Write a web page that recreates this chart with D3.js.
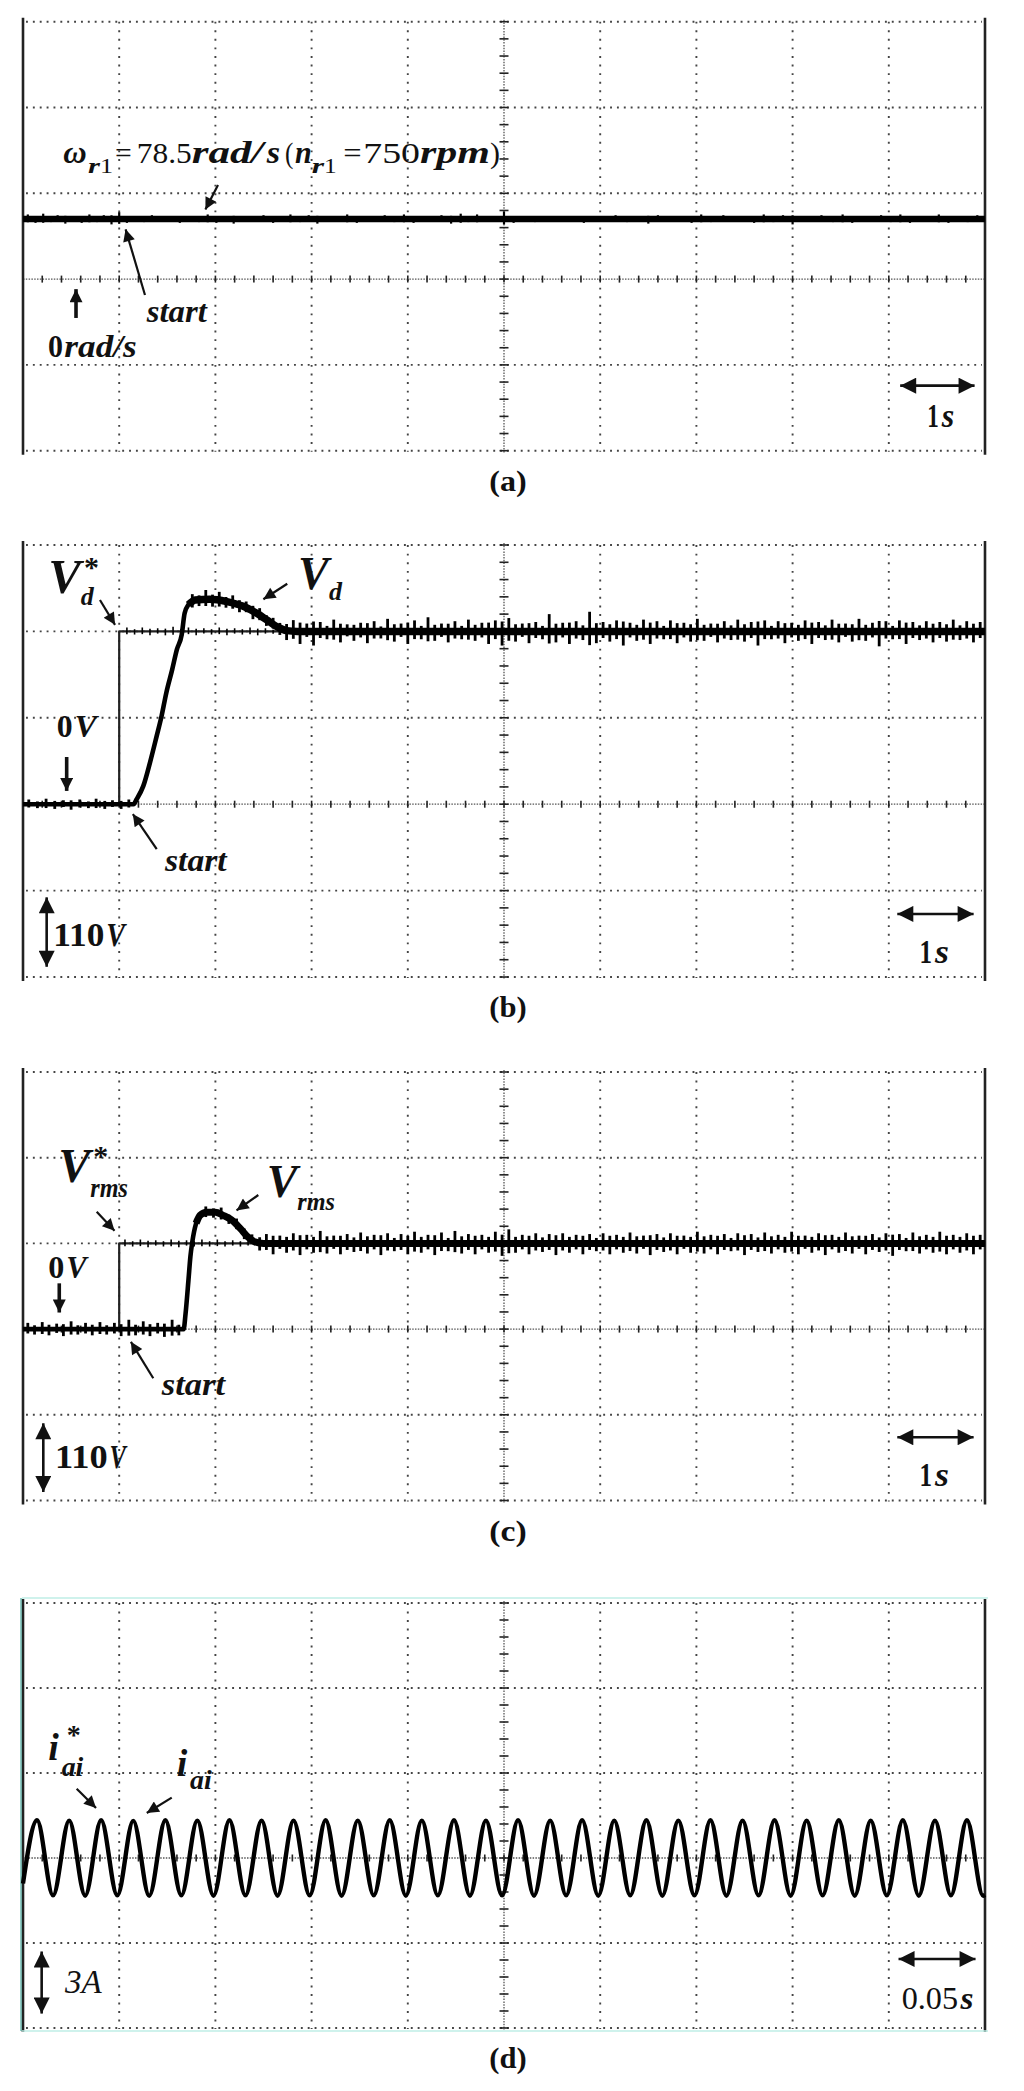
<!DOCTYPE html>
<html>
<head>
<meta charset="utf-8">
<script src="https://cdn.jsdelivr.net/npm/d3@7"></script>
<style>
  body { margin: 0; background: #fff; }
  svg { display: block; }
  text { font-family: "Liberation Serif", "Times New Roman", serif; fill: #111; }
</style>
</head>
<body>
<svg width="1024" height="2091"></svg>
<script>
'use strict'

// ---- data (read off the scope captures) ----
// (a) rotor speed, rad/s, 1 s/div
const speedTrace = [[0, 78.5], [10, 78.5]]
const speedNoise = [
  [0.05, 6], [0.13, -5], [0.21, 7], [0.29, -4], [0.36, 5], [0.44, -6], [0.52, 4], [0.61, -5], [0.69, 6], [0.77, -4],
  [0.84, 5], [0.92, -7], [1.0, 9], [1.08, -5], [1.17, 4], [1.26, -4], [1.34, 5], [1.45, -3], [1.55, 4], [1.63, -5],
  [1.72, 3], [1.83, -4], [1.92, 6], [2.01, -5], [2.1, 4], [2.19, -6], [2.3, 4], [2.4, -3], [2.5, 5], [2.6, -5],
  [2.69, 3], [2.78, 6], [2.88, -4], [2.97, 5], [3.06, -6], [3.16, 4], [3.27, -3], [3.37, 6], [3.47, -5], [3.56, 4],
  [3.66, -3], [3.76, 5], [3.86, -4], [3.96, 6], [4.06, -5], [4.15, 4], [4.25, -3], [4.35, 5], [4.45, -6], [4.55, 7],
  [4.63, -4], [4.72, 6], [4.82, -3], [4.92, 4], [5.0, 10], [5.1, -5], [5.2, 3], [5.32, -4], [5.45, 4], [5.58, -3],
  [5.7, 3], [5.83, -5], [5.95, 4], [6.05, -3], [6.16, 5], [6.28, -4], [6.4, 3], [6.5, -6], [6.6, 5], [6.72, -3],
  [6.84, 4], [6.95, -5], [7.05, 6], [7.15, -4], [7.28, 5], [7.38, -3], [7.5, 4], [7.6, -5], [7.7, 6], [7.8, -4],
  [7.9, 5], [8.0, -7], [8.1, 4], [8.2, -3], [8.3, 5], [8.42, -4], [8.52, 6], [8.62, -5], [8.72, 4], [8.82, -3],
  [8.92, 5], [9.02, -4], [9.12, 6], [9.22, -5], [9.32, 4], [9.42, -3], [9.52, 6], [9.62, -5], [9.72, 4], [9.82, -4], [9.92, 5]
]

// (b) d-axis voltage, V, 1 s/div
const vdRef = [[0, 0], [1.0, 0], [1.0, 220], [10, 220]]
const vdMeas = [
  [0, 0], [1.15, 0], [1.18, 6], [1.25, 23], [1.32, 53], [1.39, 87], [1.44, 112], [1.49, 142], [1.55, 171],
  [1.6, 197], [1.65, 216], [1.68, 243], [1.72, 254], [1.79, 260], [1.94, 261], [2.12, 258], [2.29, 252],
  [2.43, 243], [2.53, 235], [2.64, 226], [2.74, 221], [2.85, 220], [10, 220]
]
const vdRefNoise = [
  [1.08, 5], [1.16, -4], [1.24, 5], [1.32, -5], [1.4, 4], [1.48, -5], [1.56, 6], [1.64, -4], [1.72, 5], [1.8, -5],
  [1.88, 4], [1.96, -4], [2.04, 5], [2.12, -5], [2.2, 4], [2.28, -4], [2.36, 5], [2.44, -5], [2.52, 4], [2.6, -3]
]
const vdNoise = [
  [0.06, 6], [0.15, -5], [0.24, 7], [0.33, -6], [0.42, 5], [0.5, -7], [0.59, 6], [0.68, -5], [0.76, 7], [0.85, -6],
  [0.93, 5], [1.02, -6], [1.1, 6],
  [1.76, 10], [1.83, -8], [1.9, 12], [1.97, -9], [2.04, 11], [2.11, -8], [2.18, 10], [2.25, -9], [2.32, 8],
  [2.39, -10], [2.46, 9], [2.53, -8], [2.6, 8], [2.67, -9],
  [2.74, -12], [2.81, 14], [2.88, -16], [2.95, 10], [3.02, -18], [3.09, 12], [3.16, -10], [3.23, 15], [3.3, -14],
  [3.37, 9], [3.44, -12], [3.51, 11], [3.58, -15], [3.65, 13], [3.72, -9], [3.79, 16], [3.86, -13], [3.93, 10],
  [4.0, -16], [4.07, 14], [4.14, -10], [4.21, 18], [4.28, -12], [4.35, 10], [4.42, -14], [4.49, 13], [4.56, -10],
  [4.63, 15], [4.7, -12], [4.77, 11], [4.84, -16], [4.91, 14], [4.98, -18], [5.05, 17], [5.12, -13], [5.19, 10],
  [5.26, -15], [5.33, 12], [5.4, -10], [5.47, 22], [5.54, -14], [5.61, 11], [5.68, -16], [5.75, 13], [5.82, -11],
  [5.89, 25], [5.96, -15], [6.03, 12], [6.1, -13], [6.17, 14], [6.24, -18], [6.31, 11], [6.38, -12], [6.45, 15],
  [6.52, -16], [6.59, 13], [6.66, -10], [6.73, 14], [6.8, -15], [6.87, 11], [6.94, -13], [7.01, 16], [7.08, -12],
  [7.15, 10], [7.22, -14], [7.29, 13], [7.36, -11], [7.43, 15], [7.5, -13], [7.57, 12], [7.64, -18], [7.71, 14],
  [7.78, -10], [7.85, 13], [7.92, -15], [7.99, 11], [8.06, -12], [8.13, 14], [8.2, -16], [8.27, 12], [8.34, -11],
  [8.41, 15], [8.48, -14], [8.55, 10], [8.62, -13], [8.69, 16], [8.76, -12], [8.83, 11], [8.9, -19], [8.97, 13],
  [9.04, -10], [9.11, 14], [9.18, -16], [9.25, 12], [9.32, -11], [9.39, 13], [9.46, -14], [9.53, 12], [9.6, -13],
  [9.67, 15], [9.74, -11], [9.81, 13], [9.88, -14], [9.95, 12]
]

// (c) rms voltage, V, 1 s/div
const vrmsRef = [[0, 0], [1.0, 0], [1.0, 110], [10, 110]]
const vrmsMeas = [
  [0, 0], [1.67, 0], [1.69, 20], [1.72, 63], [1.74, 93], [1.76, 112], [1.8, 136], [1.84, 146], [1.91, 150],
  [2.0, 150], [2.08, 146], [2.17, 140], [2.26, 129], [2.34, 118], [2.41, 112], [2.5, 110], [10, 110]
]
const vrmsRefNoise = [
  [1.06, 5], [1.14, -4], [1.22, 5], [1.3, -5], [1.38, 4], [1.46, -4], [1.54, 5], [1.62, -5], [1.7, 4],
  [1.78, -4], [1.86, 5], [1.94, -4], [2.02, 5], [2.1, -4], [2.18, 4], [2.26, -4], [2.34, 4]
]
const vrmsNoise = [
  [0.05, 8], [0.12, -7], [0.2, 9], [0.27, -8], [0.35, 7], [0.42, -9], [0.5, 10], [0.57, -7], [0.65, 8], [0.72, -8],
  [0.8, 9], [0.87, -7], [0.95, 8], [1.02, -9], [1.1, 12], [1.17, -8], [1.25, 10], [1.32, -9], [1.4, 8], [1.47, -10],
  [1.55, 12], [1.62, -8],
  [1.9, 8], [1.98, -7], [2.06, 9], [2.14, -7], [2.22, 8], [2.3, -8], [2.38, 7],
  [2.46, -10], [2.53, 12], [2.6, -14], [2.67, 10], [2.74, -12], [2.81, 13], [2.88, -15], [2.95, 11], [3.02, -12],
  [3.09, 16], [3.16, -13], [3.23, 10], [3.3, -14], [3.37, 12], [3.44, -11], [3.51, 14], [3.58, -13], [3.65, 11],
  [3.72, -15], [3.79, 13], [3.86, -10], [3.93, 12], [4.0, -14], [4.07, 15], [4.14, -12], [4.21, 11], [4.28, -15],
  [4.35, 14], [4.42, -10], [4.49, 16], [4.56, -13], [4.63, 12], [4.7, -14], [4.77, 11], [4.84, -12], [4.91, 15],
  [4.98, -16], [5.05, 18], [5.12, -12], [5.19, 11], [5.26, -14], [5.33, 13], [5.4, -11], [5.47, 12], [5.54, -15],
  [5.61, 13], [5.68, -12], [5.75, 11], [5.82, -14], [5.89, 12], [5.96, -10], [6.03, 13], [6.1, -14], [6.17, 11],
  [6.24, -12], [6.31, 14], [6.38, -13], [6.45, 10], [6.52, -15], [6.59, 12], [6.66, -11], [6.73, 13], [6.8, -14],
  [6.87, 10], [6.94, -12], [7.01, 15], [7.08, -13], [7.15, 11], [7.22, -14], [7.29, 12], [7.36, -10], [7.43, 13],
  [7.5, -15], [7.57, 12], [7.64, -11], [7.71, 14], [7.78, -13], [7.85, 11], [7.92, -12], [7.99, 15], [8.06, -14],
  [8.13, 10], [8.2, -12], [8.27, 13], [8.34, -15], [8.41, 11], [8.48, -12], [8.55, 14], [8.62, -13], [8.69, 10],
  [8.76, -14], [8.83, 12], [8.9, -11], [8.97, 13], [9.04, -16], [9.11, 12], [9.18, -10], [9.25, 14], [9.32, -13],
  [9.39, 11], [9.46, -12], [9.53, 15], [9.6, -14], [9.67, 11], [9.74, -12], [9.81, 13], [9.88, -14], [9.95, 11]
]

// (d) phase current, A, time in ms (50 ms/div); peaks and troughs of i_ai / i_ai*
const iaStart = [[0, -0.9]]
const iaPeaks = [
  [7.3, 1.33], [24.0, 1.32], [40.6, 1.33], [57.3, 1.31], [74.0, 1.33], [90.6, 1.32], [107.3, 1.33], [124.0, 1.32],
  [140.6, 1.32], [157.3, 1.33], [174.0, 1.32], [190.6, 1.33], [207.3, 1.32], [224.0, 1.33], [240.6, 1.32],
  [257.3, 1.33], [274.0, 1.32], [290.6, 1.33], [307.3, 1.32], [324.0, 1.33], [340.6, 1.32], [357.3, 1.33],
  [374.0, 1.32], [390.6, 1.33], [407.3, 1.32], [424.0, 1.33], [440.6, 1.32], [457.3, 1.33], [474.0, 1.32], [490.6, 1.33]
]
const iaTroughs = [
  [15.6, -1.32], [32.3, -1.33], [49.0, -1.32], [65.6, -1.33], [82.3, -1.32], [99.0, -1.33], [115.6, -1.32],
  [132.3, -1.33], [149.0, -1.32], [165.6, -1.33], [182.3, -1.32], [199.0, -1.33], [215.6, -1.32], [232.3, -1.33],
  [249.0, -1.32], [265.6, -1.33], [282.3, -1.32], [299.0, -1.33], [315.6, -1.32], [332.3, -1.33], [349.0, -1.32],
  [365.6, -1.33], [382.3, -1.32], [399.0, -1.33], [415.6, -1.32], [432.3, -1.33], [449.0, -1.32], [465.6, -1.33],
  [482.3, -1.32], [499.0, -1.33]
]
const iaEnd = [[500, -1.3]]

// ---- layout ----
const svg = d3.select('svg')
const X0 = 23
const X1 = 985

const panels = [
  { key: 'a', top: 21.7, divH: 85.8, tPerDiv: 1, yPerDiv: 112.14, label: '(a)' },
  { key: 'b', top: 545, divH: 86.4, tPerDiv: 1, yPerDiv: 110, label: '(b)' },
  { key: 'c', top: 1072, divH: 85.7, tPerDiv: 1, yPerDiv: 110, label: '(c)' },
  { key: 'd', top: 1603, divH: 85, tPerDiv: 50, yPerDiv: 3, label: '(d)' }
]
panels.forEach(p => {
  p.x = d3.scaleLinear().domain([0, 10 * p.tPerDiv]).range([X0, X1])
  p.y = d3.scaleLinear().domain([-2 * p.yPerDiv, 3 * p.yPerDiv]).range([p.top + 5 * p.divH, p.top])
  p.gx = d => p.x(d * p.tPerDiv)
  p.gy = d => p.y(d * p.yPerDiv)
  p.bottom = p.top + 5 * p.divH
})
const P = Object.fromEntries(panels.map(p => [p.key, p]))
const page = { gx: d => d, gy: d => d }

// arrow heads
const defs = svg.append('defs')
const heads = { s: [16, 12], m: [15, 13], l: [17, 16] }
Object.entries(heads).forEach(([k, [len, wid]]) => {
  defs.append('marker')
    .attr('id', 'head-' + k)
    .attr('viewBox', '0 0 10 10')
    .attr('refX', 10).attr('refY', 5)
    .attr('markerUnits', 'userSpaceOnUse')
    .attr('markerWidth', len).attr('markerHeight', wid)
    .attr('orient', 'auto-start-reverse')
    .append('path').attr('d', 'M0,0 L10,5 L0,10 z').attr('fill', '#111')
})

function drawGrid(p) {
  const g = svg.append('g').attr('class', 'grid-' + p.key)
  const divW = (X1 - X0) / 10
  const zeroY = p.gy(0)
  const midX = p.gx(5)

  g.selectAll('line.v')
    .data(d3.range(1, 10).filter(k => k !== 5))
    .enter().append('line')
    .attr('x1', k => p.gx(k)).attr('x2', k => p.gx(k))
    .attr('y1', p.top).attr('y2', p.bottom + 1)
    .attr('stroke', '#444').attr('stroke-width', 1.9)
    .attr('stroke-dasharray', `1.9 ${p.divH / 10 - 1.9}`)

  g.selectAll('line.h')
    .data([3, 2, 1, -1, -2])
    .enter().append('line')
    .attr('x1', X0 + 3).attr('x2', X1 - 3)
    .attr('y1', k => p.gy(k)).attr('y2', k => p.gy(k))
    .attr('stroke', '#444').attr('stroke-width', 1.9)
    .attr('stroke-dasharray', `1.9 ${divW / 14 - 1.9}`)

  // centre cross with fine ticks
  g.append('line')
    .attr('x1', X0).attr('x2', X1).attr('y1', zeroY).attr('y2', zeroY)
    .attr('stroke', '#555').attr('stroke-width', 1.3).attr('stroke-dasharray', '1.5 1.3')
  g.append('line')
    .attr('x1', midX).attr('x2', midX).attr('y1', p.top - 2).attr('y2', p.bottom + 2)
    .attr('stroke', '#555').attr('stroke-width', 1.3).attr('stroke-dasharray', '1.5 1.3')
  g.selectAll('line.tx')
    .data(d3.range(1, 50))
    .enter().append('line')
    .attr('x1', k => X0 + k * divW / 5).attr('x2', k => X0 + k * divW / 5)
    .attr('y1', zeroY - 3.5).attr('y2', zeroY + 3.5)
    .attr('stroke', '#222').attr('stroke-width', 1.6)
  g.selectAll('line.ty')
    .data(d3.range(0, 26))
    .enter().append('line')
    .attr('y1', k => p.top + k * p.divH / 5).attr('y2', k => p.top + k * p.divH / 5)
    .attr('x1', midX - 4.5).attr('x2', midX + 4.5)
    .attr('stroke', '#222').attr('stroke-width', 1.6)

  // side borders
  g.selectAll('line.border')
    .data([X0, X1])
    .enter().append('line')
    .attr('x1', d => d).attr('x2', d => d)
    .attr('y1', p.top - 4).attr('y2', p.bottom + 4)
    .attr('stroke', '#222').attr('stroke-width', 2.6)
}

function drawTrace(p, data, width, curve, color) {
  const line = d3.line()
    .x(d => p.x(d[0]))
    .y(d => p.y(d[1]))
    .curve(curve || d3.curveLinear)
  svg.append('path')
    .datum(data)
    .attr('d', line)
    .attr('fill', 'none')
    .attr('stroke', color || '#000')
    .attr('stroke-width', width)
    .attr('stroke-linejoin', 'round')
}

function baseAt(trace, t) {
  for (let i = 0; i < trace.length - 1; i++) {
    const [t0, v0] = trace[i]
    const [t1, v1] = trace[i + 1]
    if (t >= t0 && t <= t1 && t1 > t0) return v0 + (v1 - v0) * (t - t0) / (t1 - t0)
  }
  return trace[trace.length - 1][1]
}

function drawSpikes(p, trace, noise, width) {
  svg.append('g')
    .selectAll('line')
    .data(noise)
    .enter().append('line')
    .attr('x1', d => p.x(d[0])).attr('x2', d => p.x(d[0]))
    .attr('y1', d => p.y(baseAt(trace, d[0]) - d[1] * 0.7))
    .attr('y2', d => p.y(baseAt(trace, d[0]) + d[1]))
    .attr('stroke', '#000')
    .attr('stroke-width', width)
}

function arrow(p, from, to, opts) {
  const o = Object.assign({ w: 2.2, head: 's', both: false }, opts)
  let x1 = p.gx(from[0]), y1 = p.gy(from[1])
  let x2 = p.gx(to[0]), y2 = p.gy(to[1])
  const len = Math.hypot(x2 - x1, y2 - y1)
  const ux = (x2 - x1) / len, uy = (y2 - y1) / len
  const cut = heads[o.head][0] * 0.5
  x2 -= ux * cut; y2 -= uy * cut
  if (o.both) { x1 += ux * cut; y1 += uy * cut }
  const ln = svg.append('line')
    .attr('x1', x1).attr('y1', y1).attr('x2', x2).attr('y2', y2)
    .attr('stroke', '#111').attr('stroke-width', o.w)
    .attr('marker-end', `url(#head-${o.head})`)
  if (o.both) ln.attr('marker-start', `url(#head-${o.head})`)
}

// one text, each part placed at its own position (grid units); x1 stretches the part to that end
function label(p, spec) {
  const t = svg.append('text')
  spec.parts.forEach(part => {
    const x0 = p.gx(part.x0)
    const ts = t.append('tspan').text(part.t)
      .attr('x', x0)
      .attr('y', p.gy(part.base !== undefined ? part.base : spec.base))
      .attr('font-size', part.size || spec.size)
      .attr('font-style', part.i ? 'italic' : 'normal')
      .attr('font-weight', part.b ? 'bold' : 'normal')
    if (part.x1 !== undefined) {
      ts.attr('textLength', p.gx(part.x1) - x0).attr('lengthAdjust', 'spacingAndGlyphs')
    }
  })
  return t
}

const BI = { i: true, b: true }

// ---- draw ----
panels.forEach(drawGrid)

// (d) frame tint
svg.append('g').selectAll('line')
  .data([P.d.top - 5, P.d.bottom + 3])
  .enter().append('line')
  .attr('x1', X0 - 1).attr('x2', X1 + 3).attr('y1', d => d).attr('y2', d => d)
  .attr('stroke', '#bfeee6').attr('stroke-width', 1.3)
svg.append('line')
  .attr('x1', X0 - 2).attr('x2', X0 - 2).attr('y1', P.d.top - 5).attr('y2', P.d.bottom + 3)
  .attr('stroke', '#2a9d8f').attr('stroke-width', 1)

// traces
drawTrace(P.a, speedTrace, 6.5)
drawSpikes(P.a, speedTrace, speedNoise, 2.2)

drawTrace(P.b, vdRef, 2.2, null, '#222')
drawSpikes(P.b, vdRef, vdRefNoise, 1.6)
drawTrace(P.b, vdMeas, 4.6, d3.curveMonotoneX)
drawTrace(P.b, vdMeas.filter(d => d[0] >= 1.72), 7.5, d3.curveMonotoneX)
drawSpikes(P.b, vdMeas, vdNoise, 2.8)

drawTrace(P.c, vrmsRef, 2.2, null, '#222')
drawSpikes(P.c, vrmsRef, vrmsRefNoise, 1.6)
drawTrace(P.c, vrmsMeas, 4.6, d3.curveMonotoneX)
drawTrace(P.c, vrmsMeas.filter(d => d[0] >= 1.8), 7, d3.curveMonotoneX)
drawSpikes(P.c, vrmsMeas, vrmsNoise, 2.8)

const iaWave = iaStart.concat(iaPeaks, iaTroughs, iaEnd).sort((m, n) => m[0] - n[0])
drawTrace(P.d, iaWave, 4.4, d3.curveMonotoneX)

// ---- annotations (positions in grid divisions) ----
// (a)
label(P.a, {
  base: 1.353, size: 30,
  parts: [
    { t: 'ω', x0: 0.419, x1: 0.663, ...BI, size: 31 },
    { t: 'r', x0: 0.676, x1: 0.8, ...BI, size: 22, base: 1.237 },
    { t: '1', x0: 0.8, x1: 0.936, size: 22, base: 1.237 },
    { t: '=', x0: 0.956, x1: 1.13 },
    { t: '78.5', x0: 1.182, x1: 1.754 },
    { t: 'rad/', x0: 1.754, x1: 2.498, ...BI, size: 31 },
    { t: 's', x0: 2.533, x1: 2.672, ...BI, size: 31 },
    { t: '(', x0: 2.723, x1: 2.81 },
    { t: 'n', x0: 2.827, x1: 3.001, ...BI, size: 31 },
    { t: 'r', x0: 3.001, x1: 3.129, ...BI, size: 22, base: 1.237 },
    { t: '1', x0: 3.129, x1: 3.261, size: 22, base: 1.237 },
    { t: '=', x0: 3.33, x1: 3.521 },
    { t: '750', x0: 3.537, x1: 4.127 },
    { t: 'rpm', x0: 4.127, x1: 4.854, ...BI, size: 31 },
    { t: ')', x0: 4.854, x1: 4.958 }
  ]
})
arrow(P.a, [2.027, 1.097], [1.858, 0.727])
label(P.a, { base: -0.497, size: 32, parts: [{ t: 'start', x0: 1.286, x1: 1.91, ...BI }] })
arrow(P.a, [1.268, -0.185], [1.043, 0.669])
label(P.a, {
  base: -0.904, size: 32,
  parts: [{ t: '0', x0: 0.26, x1: 0.416, b: true }, { t: 'rad/s', x0: 0.43, x1: 1.182, ...BI }]
})
arrow(P.a, [0.551, -0.453], [0.551, -0.03], { w: 3.6, head: 'm' })
arrow(P.a, [9.03, -1.242], [9.98, -1.242], { w: 2.6, head: 'l', both: true })
label(P.a, {
  base: -1.72, size: 34,
  parts: [{ t: '1', x0: 9.4, x1: 9.52, b: true }, { t: 's', x0: 9.55, x1: 9.68, ...BI }]
})

// (b)
label(P.b, {
  size: 49,
  parts: [
    { t: 'V', x0: 0.263, base: 2.447, ...BI },
    { t: '*', x0: 0.634, base: 2.633, size: 30, b: true },
    { t: 'd', x0: 0.6, base: 2.31, size: 26, ...BI }
  ]
})
arrow(P.b, [0.8, 2.363], [1.0, 1.997])
label(P.b, {
  size: 46,
  parts: [
    { t: 'V', x0: 2.859, base: 2.491, ...BI },
    { t: 'd', x0: 3.18, base: 2.363, size: 26, ...BI }
  ]
})
arrow(P.b, [2.747, 2.552], [2.429, 2.322])
label(P.b, {
  base: 0.778, size: 32,
  parts: [{ t: '0', x0: 0.35, x1: 0.515, b: true }, { t: 'V', x0: 0.535, x1: 0.766, ...BI }]
})
arrow(P.b, [0.454, 0.546], [0.454, 0.067], { w: 3.6, head: 'm' })
label(P.b, { base: -0.769, size: 32, parts: [{ t: 'start', x0: 1.476, x1: 2.117, ...BI }] })
arrow(P.b, [1.39, -0.519], [1.095, -0.037])
arrow(P.b, [0.246, -0.98], [0.246, -1.98], { w: 2.6, head: 'l', both: true })
label(P.b, {
  base: -1.645, size: 34,
  parts: [{ t: '110', x0: 0.315, x1: 0.845, b: true }, { t: 'V', x0: 0.865, x1: 1.06, ...BI }]
})
arrow(P.b, [9.0, -1.27], [9.97, -1.27], { w: 2.6, head: 'l', both: true })
label(P.b, {
  base: -1.833, size: 34,
  parts: [{ t: '1', x0: 9.32, x1: 9.45, b: true }, { t: 's', x0: 9.48, x1: 9.625, ...BI }]
})

// (c)
label(P.c, {
  size: 48,
  parts: [
    { t: 'V', x0: 0.367, base: 1.72, ...BI },
    { t: '*', x0: 0.731, base: 1.903, size: 30, b: true },
    { t: 'rms', x0: 0.7, x1: 1.091, base: 1.541, size: 27, ...BI }
  ]
})
arrow(P.c, [0.766, 1.37], [1.008, 1.078])
label(P.c, {
  size: 46,
  parts: [
    { t: 'V', x0: 2.533, base: 1.545, ...BI },
    { t: 'rms', x0: 2.852, x1: 3.243, base: 1.39, size: 26, ...BI }
  ]
})
arrow(P.c, [2.446, 1.565], [2.152, 1.331])
label(P.c, {
  base: 0.593, size: 32,
  parts: [{ t: '0', x0: 0.263, x1: 0.43, b: true }, { t: 'V', x0: 0.45, x1: 0.662, ...BI }]
})
arrow(P.c, [0.377, 0.534], [0.377, 0.106], { w: 3.6, head: 'm' })
label(P.c, { base: -0.769, size: 32, parts: [{ t: 'start', x0: 1.442, x1: 2.1, ...BI }] })
arrow(P.c, [1.354, -0.574], [1.078, -0.069])
arrow(P.c, [0.211, -1.0], [0.211, -2.0], { w: 2.6, head: 'l', both: true })
label(P.c, {
  base: -1.624, size: 34,
  parts: [{ t: '110', x0: 0.333, x1: 0.88, b: true }, { t: 'V', x0: 0.9, x1: 1.07, ...BI }]
})
arrow(P.c, [9.0, -1.262], [9.97, -1.262], { w: 2.6, head: 'l', both: true })
label(P.c, {
  base: -1.83, size: 34,
  parts: [{ t: '1', x0: 9.32, x1: 9.45, b: true }, { t: 's', x0: 9.48, x1: 9.625, ...BI }]
})

// (d)
label(P.d, {
  size: 38,
  parts: [
    { t: 'i', x0: 0.263, base: 1.153, ...BI },
    { t: '*', x0: 0.454, base: 1.341, size: 28, b: true },
    { t: 'ai', x0: 0.402, x1: 0.627, base: 0.965, size: 28, ...BI }
  ]
})
arrow(P.d, [0.558, 0.815], [0.818, 0.521])
label(P.d, {
  size: 38,
  parts: [
    { t: 'i', x0: 1.598, base: 0.965, ...BI },
    { t: 'ai', x0: 1.736, x1: 1.961, base: 0.815, size: 28, ...BI }
  ]
})
arrow(P.d, [1.546, 0.711], [1.216, 0.48])
arrow(P.d, [0.194, -1.0], [0.194, -1.93], { w: 2.6, head: 'l', both: true })
label(P.d, { base: -1.588, size: 33, parts: [{ t: '3A', x0: 0.437, x1: 0.819, i: true }] })
arrow(P.d, [9.013, -1.188], [9.99, -1.188], { w: 2.6, head: 'l', both: true })
label(P.d, {
  base: -1.779, size: 32,
  parts: [{ t: '0.05', x0: 9.134, x1: 9.72 }, { t: 's', x0: 9.745, x1: 9.88, ...BI }]
})

// panel captions
panels.forEach(p => {
  label(page, { base: p.bottom + 40, size: 30, parts: [{ t: p.label, x0: 489.3, x1: 526.7, b: true }] })
})
</script>
</body>
</html>
